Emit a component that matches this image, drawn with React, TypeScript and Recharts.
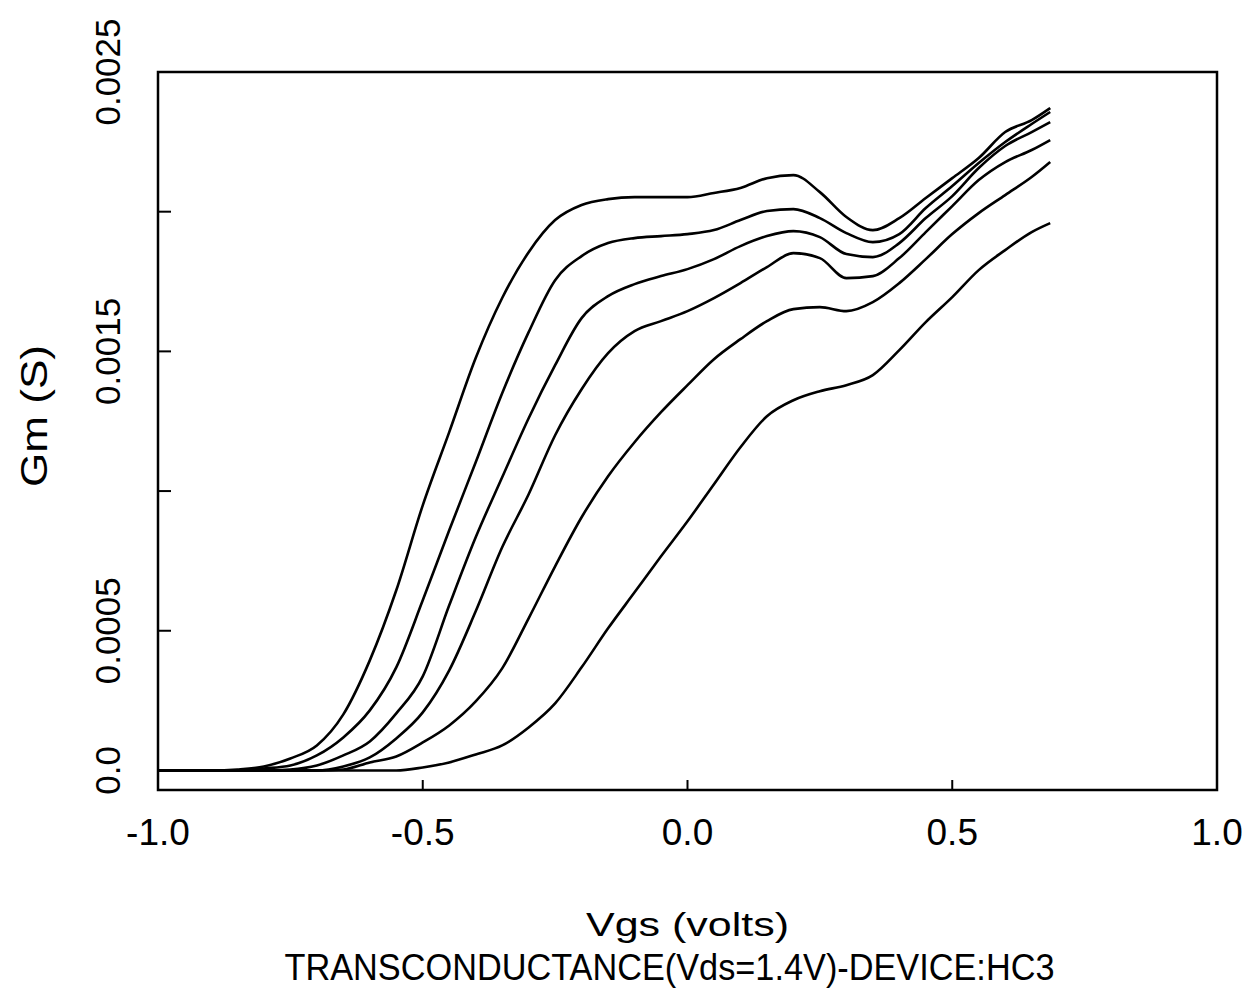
import React from "react"
import { LineChart, Line, XAxis, YAxis, ReferenceArea, Label } from "recharts"

// gate voltage samples (V)
const vgs = [
  -1.0, -0.9, -0.85, -0.8, -0.75, -0.7, -0.65, -0.6, -0.55, -0.5, -0.45, -0.4, -0.35, -0.3, -0.25, -0.2, -0.15,
  -0.1, -0.05, 0, 0.05, 0.1, 0.15, 0.2, 0.25, 0.3, 0.35, 0.4, 0.45, 0.5, 0.55, 0.6, 0.65, 0.685,
]

// transconductance (S), six traces, left to right
const gm1 = [
  0, 0, 0.0000036, 0.0000143, 0.000043, 0.0000895, 0.0002006, 0.000394, 0.000645, 0.000949, 0.001211, 0.001476,
  0.001691, 0.001855, 0.00197, 0.002024, 0.002045, 0.002052, 0.002052, 0.002052, 0.002067, 0.002085, 0.00212,
  0.002131, 0.00207, 0.001981, 0.001934, 0.001977, 0.002049, 0.00212, 0.002192, 0.002285, 0.002328, 0.002371,
]
const gm2 = [
  0, 0, 0, 0.0000072, 0.0000179, 0.0000537, 0.0001182, 0.0002149, 0.0003689, 0.0006089, 0.0008596, 0.0011032,
  0.0013503, 0.0015688, 0.001755, 0.001841, 0.0018876, 0.0019055, 0.0019126, 0.0019198, 0.0019341, 0.0019699,
  0.0020022, 0.0020093, 0.0019771, 0.0019234, 0.0018911, 0.0019198, 0.0020129, 0.0020917, 0.0021741, 0.0022493,
  0.0023138, 0.0023568,
]
const gm3 = [
  0, 0, 0, 0, 0.0000036, 0.0000179, 0.0000537, 0.0001039, 0.0002042, 0.0003367, 0.000591, 0.0008345, 0.0010494,
  0.0012608, 0.0014506, 0.0016189, 0.0016977, 0.0017407, 0.0017694, 0.0017944, 0.0018302, 0.0018768, 0.0019126,
  0.0019305, 0.001909, 0.0018482, 0.0018374, 0.0018876, 0.0019771, 0.0020559, 0.0021562, 0.002235, 0.0022851,
  0.0023209,
]
const gm4 = [
  0, 0, 0, 0, 0, 0, 0.0000143, 0.0000466, 0.0001146, 0.0002077, 0.0003582, 0.0005695, 0.0007987, 0.0009885,
  0.0011999, 0.0013646, 0.0014936, 0.0015724, 0.0016082, 0.001644, 0.0016906, 0.0017443, 0.0018016, 0.0018517,
  0.0018338, 0.0017622, 0.0017694, 0.0018338, 0.001927, 0.0020201, 0.0021132, 0.0021777, 0.0022207, 0.0022565,
]
const gm5 = [
  0, 0, 0, 0, 0, 0, 0.0000036, 0.0000287, 0.0000501, 0.0001003, 0.0001612, 0.0002471, 0.0003653, 0.0005444,
  0.0007307, 0.0009062, 0.001053, 0.0011748, 0.0012822, 0.001379, 0.0014721, 0.0015437, 0.0016082, 0.0016512,
  0.0016583, 0.001644, 0.0016762, 0.0017443, 0.0018302, 0.0019198, 0.001995, 0.0020595, 0.0021239, 0.0021777,
]
const gm6 = [
  0, 0, 0, 0, 0, 0, 0, 0, 0, 0.0000107, 0.0000287, 0.0000573, 0.0000895, 0.000154, 0.00024, 0.000369,
  0.0005086, 0.0006375, 0.0007665, 0.0008918, 0.0010244, 0.0011569, 0.0012679, 0.0013252, 0.0013575, 0.001379,
  0.0014148, 0.0015043, 0.0016046, 0.0016941, 0.0017909, 0.0018625, 0.001927, 0.0019592,
]

const xTicks = [-1, -0.5, 0, 0.5, 1]
const yTicks = [0, 0.0005, 0.001, 0.0015, 0.002, 0.0025]
const yLabelled = [0, 0.0005, 0.0015, 0.0025]
const series = ["gm1", "gm2", "gm3", "gm4", "gm5", "gm6"]

const data = vgs.map((v, i) => ({
  vgs: v,
  gm1: gm1[i],
  gm2: gm2[i],
  gm3: gm3[i],
  gm4: gm4[i],
  gm5: gm5[i],
  gm6: gm6[i],
}))

const font = "'Liberation Sans', Arial, Helvetica, sans-serif"
const Y_MIN = -0.00007
const Y_MAX = 0.0025

function XTick({ x, y, payload }: any) {
  const v = payload.value
  const inner = v > -1 && v < 1
  return (
    <g>
      {inner && <line x1={x} y1={y} x2={x} y2={y - 10} stroke="#000" strokeWidth={2} />}
      <text x={x} y={y + 55} textAnchor="middle" fontFamily={font} fontSize={37} fill="#000">
        {v.toFixed(1)}
      </text>
    </g>
  )
}

function YTick({ x, y, payload }: any) {
  const v = payload.value
  const label = v === 0 ? "0.0" : v.toFixed(4)
  const tx = x - 38
  return (
    <g>
      {v > 0 && v < Y_MAX && <line x1={x} y1={y} x2={x + 13} y2={y} stroke="#000" strokeWidth={2} />}
      {yLabelled.includes(v) && (
        <text
          x={tx}
          y={y}
          transform={`rotate(-90, ${tx}, ${y})`}
          textAnchor="middle"
          fontFamily={font}
          fontSize={35}
          fill="#000"
        >
          {label}
        </text>
      )}
    </g>
  )
}

export default function App() {
  return (
    <div style={{ position: "absolute", left: 0, top: 0, width: 1247, height: 991, background: "#fff" }}>
      <LineChart width={1247} height={991} data={data} margin={{ top: 72, right: 30, bottom: 141, left: 0 }}>
        <XAxis
          dataKey="vgs"
          type="number"
          domain={[-1, 1]}
          ticks={xTicks}
          allowDataOverflow
          axisLine={false}
          tickLine={false}
          tickSize={0}
          tickMargin={0}
          height={60}
          tick={<XTick />}
        >
          <Label
            content={(props: any) => {
              const vb = props.viewBox
              const cx = vb.x + vb.width / 2
              return (
                <g fontFamily={font} fill="#000">
                  <text x={cx} y={vb.y + 146} textAnchor="middle" fontSize={34} textLength={203} lengthAdjust="spacingAndGlyphs">
                    Vgs (volts)
                  </text>
                  <text x={cx - 18} y={vb.y + 190} textAnchor="middle" fontSize={36} textLength={770} lengthAdjust="spacingAndGlyphs">
                    TRANSCONDUCTANCE(Vds=1.4V)-DEVICE:HC3
                  </text>
                </g>
              )
            }}
          />
        </XAxis>
        <YAxis
          type="number"
          domain={[Y_MIN, Y_MAX]}
          ticks={yTicks}
          allowDataOverflow
          axisLine={false}
          tickLine={false}
          tickSize={0}
          tickMargin={0}
          width={158}
          tick={<YTick />}
        >
          <Label
            content={() => (
              <text
                x={47}
                y={416}
                transform="rotate(-90, 47, 416)"
                textAnchor="middle"
                fontFamily={font}
                fontSize={36}
                textLength={142}
                lengthAdjust="spacingAndGlyphs"
                fill="#000"
              >
                Gm (S)
              </text>
            )}
          />
        </YAxis>
        <ReferenceArea x1={-1} x2={1} y1={Y_MIN} y2={Y_MAX} fill="none" stroke="#000" strokeWidth={2.5} ifOverflow="visible" />
        {series.map((k) => (
          <Line
            key={k}
            type="monotone"
            dataKey={k}
            stroke="#000"
            strokeWidth={2.6}
            dot={false}
            isAnimationActive={false}
          />
        ))}
      </LineChart>
    </div>
  )
}
